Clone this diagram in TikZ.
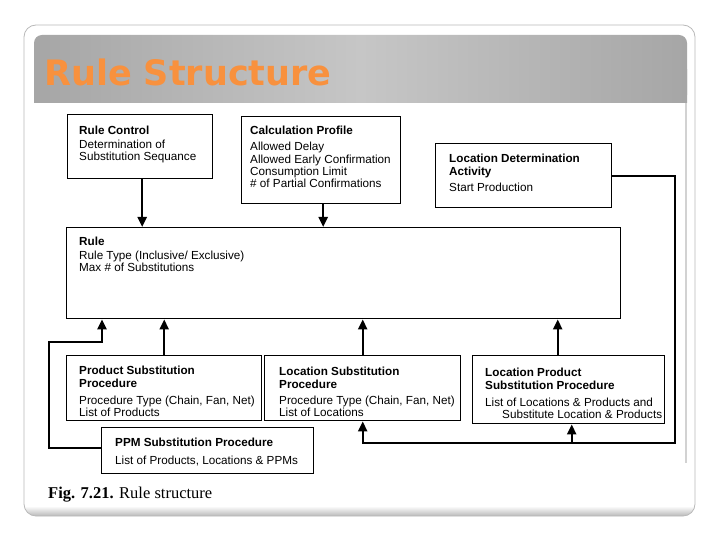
\documentclass[tikz,border=0pt]{standalone}
\usepackage{fontspec}
\setmainfont{Liberation Sans}
\newfontfamily\titlefont{DejaVu Sans}
\newfontfamily\capfont{Liberation Serif}
\usetikzlibrary{arrows.meta,calc}
\definecolor{titleorange}{RGB}{248,145,62}
\definecolor{hdrdark}{RGB}{166,166,166}
\definecolor{hdrlight}{RGB}{198,198,198}
\begin{document}
\begin{tikzpicture}[x=1pt,y=-1pt,
  box/.style={draw=black, line width=1.4pt, anchor=north west, inner sep=0pt, fill=white},
  txt/.style={anchor=base west, inner sep=0pt, font=\fontsize{11.7}{12.7}\selectfont},
  hd/.style={txt, font=\bfseries\fontsize{11.7}{12.7}\selectfont},
  conn/.style={line width=2.2pt},
  arr/.style={conn, -{Triangle[width=9pt,length=10pt]}}]
\useasboundingbox (0,0) rectangle (720,540);
\fill[white] (0,0) rectangle (720,540);
% slide frame
\begin{scope}
  \clip[rounded corners=12pt] (24,25) rectangle (695,516);
  \shade[top color=white, bottom color=gray!55] (24,506) rectangle (695,516);
\end{scope}
\draw[gray!55, line width=0.8pt, rounded corners=12pt] (24,25) rectangle (695,516);
% header
\shade[left color=hdrdark, right color=hdrdark, middle color=hdrlight, rounded corners=8pt] (34,35) rectangle (687,103);
\shade[left color=hdrdark, right color=hdrdark, middle color=hdrlight] (34,70) rectangle (687,103);
\node[anchor=base west, inner sep=0pt, text=titleorange, font=\titlefont\bfseries\fontsize{35}{40}\selectfont] (title) at (44,86) {Rule Structure};
\draw[gray!35, line width=1.5pt] (686,103) -- (686,463);
% boxes
\node[box, minimum width=145pt, minimum height=64pt] (rc) at (67,114) {};
\node[box, minimum width=159pt, minimum height=87pt] (calc) at (241,116) {};
\node[box, minimum width=176pt, minimum height=64pt] (lda) at (435,143) {};
\node[box, minimum width=554pt, minimum height=91pt] (rule) at (66,227) {};
\node[box, minimum width=195pt, minimum height=65pt] (psp) at (66,355) {};
\node[box, minimum width=196pt, minimum height=65pt] (lsp) at (264,355) {};
\node[box, minimum width=192pt, minimum height=68pt] (lpsp) at (472,355) {};
\node[box, minimum width=212pt, minimum height=46pt] (ppm) at (101,427) {};
% texts
\node[hd] (rc1) at (79,135) {Rule Control};
\node[txt] (rc2) at (79,149) {Determination of};
\node[txt] (rc3) at (79,161) {Substitution Sequance};
\node[hd] (ca1) at (250,135) {Calculation Profile};
\node[txt] (ca2) at (250,151) {Allowed Delay};
\node[txt] (ca3) at (250,164) {Allowed Early Confirmation};
\node[txt] (ca4) at (250,176) {Consumption Limit};
\node[txt] (ca5) at (250,188) {\# of Partial Confirmations};
\node[hd] (ld1) at (449,163) {Location Determination};
\node[hd] (ld2) at (449,176) {Activity};
\node[txt] (ld3) at (449,192) {Start Production};
\node[hd] (ru1) at (79,245) {Rule};
\node[txt] (ru2) at (79,259) {Rule Type (Inclusive/ Exclusive)};
\node[txt] (ru3) at (79,271) {Max \# of Substitutions};
\node[hd] (ps1) at (79,374) {Product Substitution};
\node[hd] (ps2) at (79,387) {Procedure};
\node[txt] (ps3) at (79,404) {Procedure Type (Chain, Fan, Net)};
\node[txt] (ps4) at (79,416) {List of Products};
\node[hd] (ls1) at (279,375) {Location Substitution};
\node[hd] (ls2) at (279,388) {Procedure};
\node[txt] (ls3) at (279,404) {Procedure Type (Chain, Fan, Net)};
\node[txt] (ls4) at (279,416) {List of Locations};
\node[hd] (lp1) at (485,376) {Location Product};
\node[hd] (lp2) at (485,389) {Substitution Procedure};
\node[txt] (lp3) at (485,406) {List of Locations \& Products and};
\node[txt] (lp4) at (502,418) {Substitute Location \& Products};
\node[hd] (pp1) at (115,446) {PPM Substitution Procedure};
\node[txt] (pp2) at (115,464) {List of Products, Locations \& PPMs};
% connectors
\coordinate (rcA) at ($(rc.south)+(2,0)$);
\draw[arr] (rcA) -- (rcA |- rule.north);
\coordinate (caA) at ($(calc.south)+(2,0)$);
\draw[arr] (caA) -- (caA |- rule.north);
\draw[arr] (psp.north) -- (psp.north |- rule.south);
\draw[arr] (lsp.north) -- (lsp.north |- rule.south);
\coordinate (lpA) at ($(lpsp.north)+(-11,0)$);
\draw[arr] (lpA) -- (lpA |- rule.south);
\coordinate (ppW) at ($(ppm.west)+(0,-3)$);
\coordinate (ppL) at (49,342);
\coordinate (ppR) at (102,342);
\draw[arr] (ppW) -| (ppL) -- (ppR) -- (ppR |- rule.south);
\coordinate (ldR) at (675,443);
\coordinate (lpB) at ($(lpsp.south)+(3,0)$);
\draw[arr] (lda.east) -| (ldR) -- (lsp.south |- ldR) -- (lsp.south);
\draw[arr] (lpB |- ldR) -- (lpB);
% caption
\node[anchor=base west, inner sep=0pt, font=\capfont\fontsize{16.5}{18}\selectfont] (cap) at (48,498) {\textbf{Fig. 7.21.} Rule structure};
\end{tikzpicture}
\end{document}
